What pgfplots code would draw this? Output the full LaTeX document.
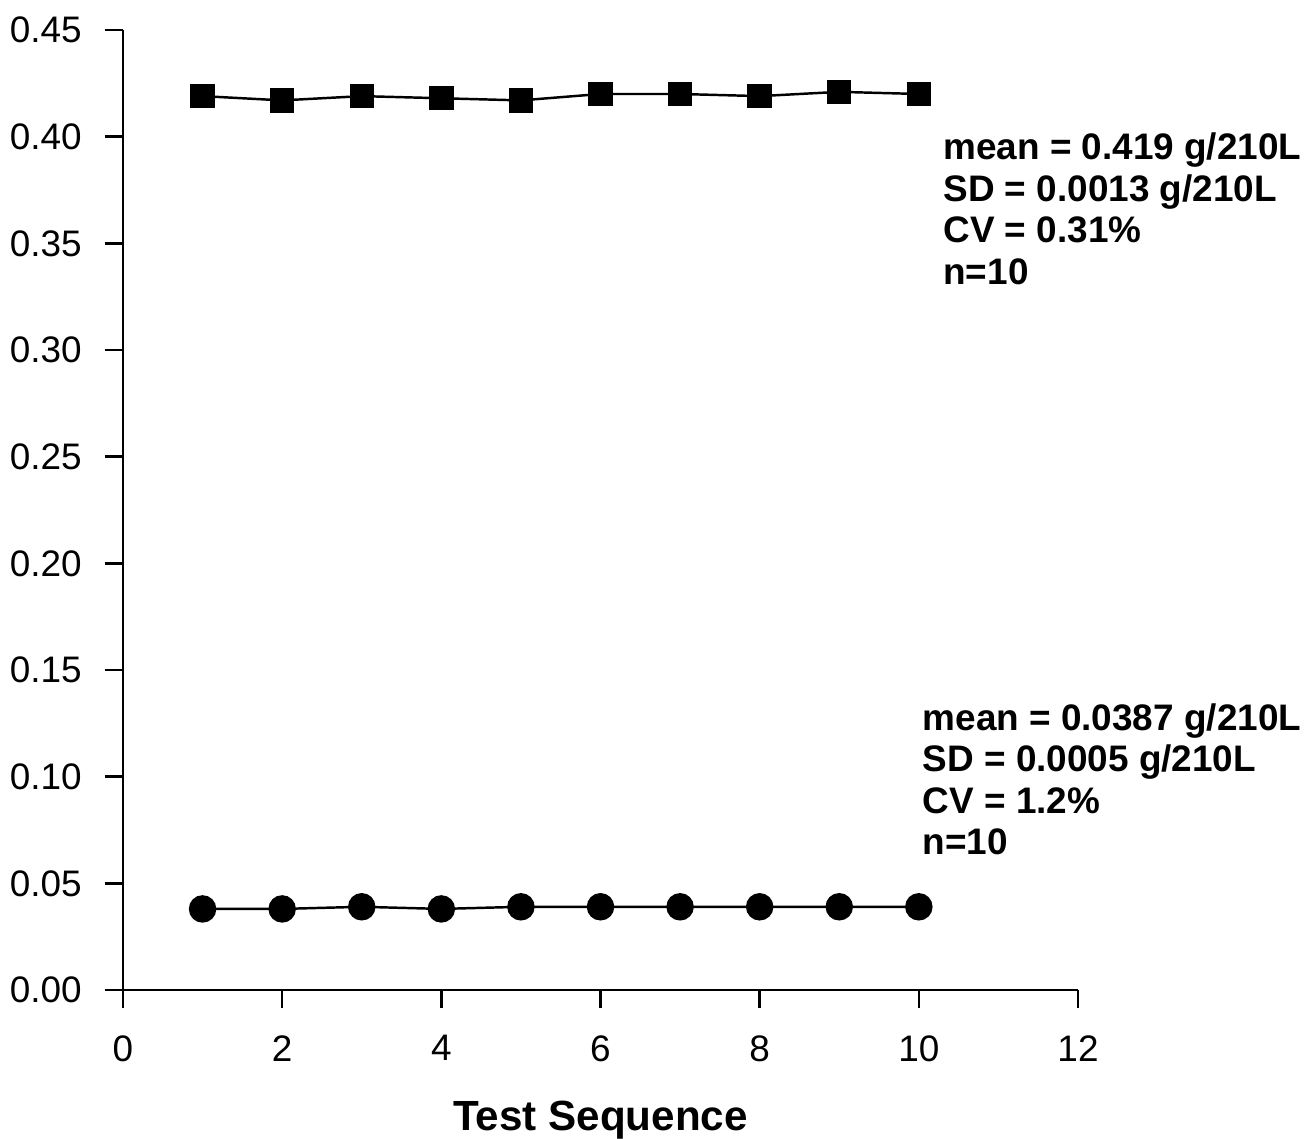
\documentclass[border=0pt]{standalone}
\usepackage{fontspec}
\setmainfont{Liberation Sans}
\usepackage{pgfplots}
\pgfplotsset{compat=1.18}
\usetikzlibrary{calc}

\begin{document}
\begin{tikzpicture}
\begin{axis}[
  scale only axis, width=9.55cm, height=9.6cm,
  xmin=0, xmax=12, ymin=0, ymax=0.45,
  axis x line=bottom, axis y line=left,
  axis line style={-, line width=0.7pt},
  xtick={0,2,4,6,8,10,12},
  ytick={0,0.05,0.10,0.15,0.20,0.25,0.30,0.35,0.40,0.45},
  yticklabel style={xshift=-1.1mm, /pgf/number format/.cd, fixed, fixed zerofill, precision=2},
  /pgf/number format/assume math mode=true,
  tick align=outside, major tick length=1.8mm,
  tick style={line width=0.7pt, black},
  tick label style={font=\fontsize{10.5}{12}\selectfont},
  xticklabel style={yshift=-1.5mm},
  xlabel={Test Sequence},
  xlabel style={font=\bfseries\fontsize{12}{14}\selectfont, yshift=-1.5mm},
  clip=false,
]
\addplot[black, line width=0.7pt, mark=square*, mark size=1.1mm] coordinates {
  (1,0.419) (2,0.417) (3,0.419) (4,0.418) (5,0.417)
  (6,0.420) (7,0.420) (8,0.419) (9,0.421) (10,0.420)
};
\addplot[black, line width=0.7pt, mark=*, mark size=1.25mm] coordinates {
  (1,0.038) (2,0.038) (3,0.039) (4,0.038) (5,0.039)
  (6,0.039) (7,0.039) (8,0.039) (9,0.039) (10,0.039)
};
\node[anchor=north west, align=left, inner sep=0pt,
  font=\bfseries\fontsize{10.5}{11.8}\selectfont] at (axis cs:10.3,0.402)
  {mean = 0.419 g/210L\\SD = 0.0013 g/210L\\CV = 0.31\%\\n=10};
\node[anchor=north west, align=left, inner sep=0pt,
  font=\bfseries\fontsize{10.5}{11.8}\selectfont] at (axis cs:10.04,0.1346)
  {mean = 0.0387 g/210L\\SD = 0.0005 g/210L\\CV = 1.2\%\\n=10};
\coordinate (sw) at (rel axis cs:0,0);
\coordinate (ne) at (rel axis cs:1,1);
\end{axis}
\pgfresetboundingbox
\useasboundingbox ($(sw)+(-1.23cm,-1.49cm)$) rectangle ($(ne)+(2.28cm,0.30cm)$);
\end{tikzpicture}
\end{document}
